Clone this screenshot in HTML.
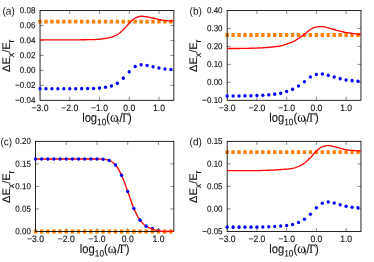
<!DOCTYPE html>
<html><head><meta charset="utf-8"><title>fig</title>
<style>
html,body{margin:0;padding:0;background:#fff;}
body{width:374px;height:262px;overflow:hidden;}
svg{display:block;will-change:transform;}
text{font-family:"Liberation Sans",sans-serif;fill:#111;text-rendering:geometricPrecision;}
.t,.l{stroke:#111;stroke-width:0.1px;}
.t{font-size:8px;}
.l{font-size:11.2px;}
.u{font-size:8.6px;}
.p{font-size:10.1px;}
.s{font-family:"Liberation Serif",serif;}
</style></head><body>
<svg width="374" height="262" viewBox="0 0 374 262">
<rect width="374" height="262" fill="#fff"/>

<g transform="translate(0,0)">
<path d="M40.04 25.47h3.6M173.85 25.47h-3.6M40.04 40.43h3.6M173.85 40.43h-3.6M40.04 55.4h3.6M173.85 55.4h-3.6M40.04 70.37h3.6M173.85 70.37h-3.6M40.04 85.33h3.6M173.85 85.33h-3.6M69.78 100.3v-3.6M69.78 10.5v3.6M99.51 100.3v-3.6M99.51 10.5v3.6M129.25 100.3v-3.6M129.25 10.5v3.6M158.98 100.3v-3.6M158.98 10.5v3.6" stroke="#000" stroke-width="0.45" fill="none"/>
<path d="M38.34 19.75h3.4v3.8h-3.4zM44.29 19.75h3.4v3.8h-3.4zM50.23 19.75h3.4v3.8h-3.4zM56.18 19.75h3.4v3.8h-3.4zM62.13 19.75h3.4v3.8h-3.4zM68.08 19.75h3.4v3.8h-3.4zM74.02 19.75h3.4v3.8h-3.4zM79.97 19.75h3.4v3.8h-3.4zM85.92 19.75h3.4v3.8h-3.4zM91.86 19.75h3.4v3.8h-3.4zM97.81 19.75h3.4v3.8h-3.4zM103.76 19.75h3.4v3.8h-3.4zM109.71 19.75h3.4v3.8h-3.4zM115.65 19.75h3.4v3.8h-3.4zM121.6 19.75h3.4v3.8h-3.4zM127.55 19.75h3.4v3.8h-3.4zM133.49 19.75h3.4v3.8h-3.4zM139.44 19.75h3.4v3.8h-3.4zM145.39 19.75h3.4v3.8h-3.4zM151.34 19.75h3.4v3.8h-3.4zM157.28 19.75h3.4v3.8h-3.4zM163.23 19.75h3.4v3.8h-3.4zM169.18 19.75h3.4v3.8h-3.4z" fill="#ff7f00"/>
<rect x="40.04" y="10.5" width="133.81" height="89.8" fill="none" stroke="#000" stroke-width="0.85"/>
<path d="M40.04 39.93 L41 39.93 L41.97 39.93 L42.93 39.93 L43.89 39.93 L44.85 39.93 L45.82 39.93 L46.78 39.93 L47.74 39.93 L48.7 39.93 L49.67 39.93 L50.63 39.93 L51.59 39.93 L52.55 39.93 L53.52 39.93 L54.48 39.93 L55.44 39.93 L56.41 39.93 L57.37 39.93 L58.33 39.93 L59.29 39.93 L60.26 39.93 L61.22 39.93 L62.18 39.93 L63.14 39.93 L64.11 39.93 L65.07 39.93 L66.03 39.92 L66.99 39.91 L67.96 39.9 L68.92 39.89 L69.88 39.88 L70.85 39.87 L71.81 39.87 L72.77 39.86 L73.73 39.85 L74.7 39.84 L75.66 39.83 L76.62 39.83 L77.58 39.82 L78.55 39.81 L79.51 39.8 L80.47 39.8 L81.43 39.79 L82.4 39.77 L83.36 39.76 L84.32 39.74 L85.29 39.73 L86.25 39.71 L87.21 39.69 L88.17 39.67 L89.14 39.66 L90.1 39.65 L91.06 39.63 L92.02 39.62 L92.99 39.6 L93.95 39.57 L94.91 39.54 L95.87 39.49 L96.84 39.43 L97.8 39.37 L98.76 39.29 L99.73 39.21 L100.69 39.12 L101.65 38.99 L102.61 38.86 L103.58 38.7 L104.54 38.54 L105.5 38.38 L106.46 38.21 L107.43 38.03 L108.39 37.83 L109.35 37.62 L110.31 37.38 L111.28 37.12 L112.24 36.83 L113.2 36.5 L114.16 36.13 L115.13 35.72 L116.09 35.27 L117.05 34.79 L118.02 34.23 L118.98 33.54 L119.94 32.76 L120.9 31.9 L121.87 31 L122.83 30.08 L123.79 29.17 L124.75 28.19 L125.72 27.15 L126.68 26.09 L127.64 25.04 L128.6 24.02 L129.57 23.06 L130.53 22.08 L131.49 21.07 L132.46 20.11 L133.42 19.24 L134.38 18.52 L135.34 17.99 L136.31 17.56 L137.27 17.15 L138.23 16.79 L139.19 16.5 L140.16 16.31 L141.12 16.23 L142.08 16.26 L143.04 16.33 L144.01 16.43 L144.97 16.56 L145.93 16.7 L146.9 16.84 L147.86 16.99 L148.82 17.17 L149.78 17.37 L150.75 17.58 L151.71 17.8 L152.67 18.02 L153.63 18.23 L154.6 18.44 L155.56 18.66 L156.52 18.88 L157.48 19.11 L158.45 19.34 L159.41 19.56 L160.37 19.77 L161.34 19.98 L162.3 20.18 L163.26 20.35 L164.22 20.5 L165.19 20.61 L166.15 20.7 L167.11 20.76 L168.07 20.8 L169.04 20.83 L170 20.84 L170.96 20.85 L171.92 20.84 L172.89 20.82 L173.85 20.78" fill="none" stroke="#ff0505" stroke-width="1.35" stroke-linejoin="round"/>
<g fill="#0000ff"><ellipse cx="40.04" cy="88.8" rx="1.65" ry="1.8"/><ellipse cx="45.99" cy="88.8" rx="1.65" ry="1.8"/><ellipse cx="51.93" cy="88.8" rx="1.65" ry="1.8"/><ellipse cx="57.88" cy="88.8" rx="1.65" ry="1.8"/><ellipse cx="63.83" cy="88.8" rx="1.65" ry="1.8"/><ellipse cx="69.78" cy="88.75" rx="1.65" ry="1.8"/><ellipse cx="75.72" cy="88.7" rx="1.65" ry="1.8"/><ellipse cx="81.67" cy="88.65" rx="1.65" ry="1.8"/><ellipse cx="87.62" cy="88.55" rx="1.65" ry="1.8"/><ellipse cx="93.56" cy="88.45" rx="1.65" ry="1.8"/><ellipse cx="99.51" cy="88.1" rx="1.65" ry="1.8"/><ellipse cx="105.46" cy="87.25" rx="1.65" ry="1.8"/><ellipse cx="111.41" cy="85.95" rx="1.65" ry="1.8"/><ellipse cx="117.35" cy="83.35" rx="1.65" ry="1.8"/><ellipse cx="123.3" cy="78.15" rx="1.65" ry="1.8"/><ellipse cx="129.25" cy="71.85" rx="1.65" ry="1.8"/><ellipse cx="135.19" cy="66.55" rx="1.65" ry="1.8"/><ellipse cx="141.14" cy="64.75" rx="1.65" ry="1.8"/><ellipse cx="147.09" cy="65.45" rx="1.65" ry="1.8"/><ellipse cx="153.04" cy="66.75" rx="1.65" ry="1.8"/><ellipse cx="158.98" cy="68.05" rx="1.65" ry="1.8"/><ellipse cx="164.93" cy="68.95" rx="1.65" ry="1.8"/><ellipse cx="170.88" cy="69.45" rx="1.65" ry="1.8"/></g>
<text class="t" transform="translate(35.44,13.25) matrix(1,0.0006,0,1.09,0,0)" text-anchor="end">0.08</text>
<text class="t" transform="translate(35.44,28.22) matrix(1,0.0006,0,1.09,0,0)" text-anchor="end">0.06</text>
<text class="t" transform="translate(35.44,43.18) matrix(1,0.0006,0,1.09,0,0)" text-anchor="end">0.04</text>
<text class="t" transform="translate(35.44,58.15) matrix(1,0.0006,0,1.09,0,0)" text-anchor="end">0.02</text>
<text class="t" transform="translate(35.44,73.12) matrix(1,0.0006,0,1.09,0,0)" text-anchor="end">0.00</text>
<text class="t" transform="translate(35.44,88.08) matrix(1,0.0006,0,1.09,0,0)" text-anchor="end">−0.02</text>
<text class="t" transform="translate(35.44,103.05) matrix(1,0.0006,0,1.09,0,0)" text-anchor="end">−0.04</text>
<text class="t u" transform="translate(40.04,110.9) matrix(1,0.0006,0,1.09,0,0)" text-anchor="middle">−3.0</text>
<text class="t u" transform="translate(69.78,110.9) matrix(1,0.0006,0,1.09,0,0)" text-anchor="middle">−2.0</text>
<text class="t u" transform="translate(99.51,110.9) matrix(1,0.0006,0,1.09,0,0)" text-anchor="middle">−1.0</text>
<text class="t u" transform="translate(129.25,110.9) matrix(1,0.0006,0,1.09,0,0)" text-anchor="middle">0.0</text>
<text class="t u" transform="translate(158.98,110.9) matrix(1,0.0006,0,1.09,0,0)" text-anchor="middle">1.0</text>
<text class="p" transform="translate(2.5,14.45) matrix(1,0.0006,0,1.04,0,0)">(a)</text>
<text class="l" transform="translate(106.94,121.7) matrix(1,0.0006,0,1.11,0,0)" text-anchor="middle">log<tspan font-size="8.3px" dy="3.2">10</tspan><tspan dy="-3.2">(</tspan><tspan class="s" font-size="13px">ω</tspan><tspan font-size="7.6px" dy="2.2" dx="-1.5" stroke="none">t</tspan><tspan dy="-2.2" dx="0.2">/</tspan><tspan class="s" dx="-0.4">Γ</tspan><tspan dx="-0.6">)</tspan></text>
<text class="l" style="font-size:11px;stroke-width:0.1px" transform="translate(10.3,55.7) rotate(-90) scale(1.0,1)" text-anchor="middle">ΔE<tspan font-size="8.9px" dy="3.2">x</tspan><tspan dy="-3.2">/E</tspan><tspan font-size="8.9px" dy="3.2">r</tspan></text>
</g>
<g transform="translate(187.12,0)">
<path d="M40.04 28.46h3.6M173.85 28.46h-3.6M40.04 46.42h3.6M173.85 46.42h-3.6M40.04 64.38h3.6M173.85 64.38h-3.6M40.04 82.34h3.6M173.85 82.34h-3.6M69.78 100.3v-3.6M69.78 10.5v3.6M99.51 100.3v-3.6M99.51 10.5v3.6M129.25 100.3v-3.6M129.25 10.5v3.6M158.98 100.3v-3.6M158.98 10.5v3.6" stroke="#000" stroke-width="0.45" fill="none"/>
<path d="M38.34 33.1h3.4v3.8h-3.4zM44.29 33.1h3.4v3.8h-3.4zM50.23 33.1h3.4v3.8h-3.4zM56.18 33.1h3.4v3.8h-3.4zM62.13 33.1h3.4v3.8h-3.4zM68.08 33.1h3.4v3.8h-3.4zM74.02 33.1h3.4v3.8h-3.4zM79.97 33.1h3.4v3.8h-3.4zM85.92 33.1h3.4v3.8h-3.4zM91.86 33.1h3.4v3.8h-3.4zM97.81 33.1h3.4v3.8h-3.4zM103.76 33.1h3.4v3.8h-3.4zM109.71 33.1h3.4v3.8h-3.4zM115.65 33.1h3.4v3.8h-3.4zM121.6 33.1h3.4v3.8h-3.4zM127.55 33.1h3.4v3.8h-3.4zM133.49 33.1h3.4v3.8h-3.4zM139.44 33.1h3.4v3.8h-3.4zM145.39 33.1h3.4v3.8h-3.4zM151.34 33.1h3.4v3.8h-3.4zM157.28 33.1h3.4v3.8h-3.4zM163.23 33.1h3.4v3.8h-3.4zM169.18 33.1h3.4v3.8h-3.4z" fill="#ff7f00"/>
<rect x="40.04" y="10.5" width="133.81" height="89.8" fill="none" stroke="#000" stroke-width="0.85"/>
<path d="M40.04 48.46 L41 48.46 L41.97 48.46 L42.93 48.46 L43.89 48.46 L44.85 48.46 L45.82 48.46 L46.78 48.46 L47.74 48.46 L48.7 48.46 L49.67 48.46 L50.63 48.46 L51.59 48.46 L52.55 48.46 L53.52 48.45 L54.48 48.43 L55.44 48.41 L56.41 48.39 L57.37 48.37 L58.33 48.35 L59.29 48.34 L60.26 48.32 L61.22 48.31 L62.18 48.29 L63.14 48.27 L64.11 48.25 L65.07 48.23 L66.03 48.2 L66.99 48.17 L67.96 48.13 L68.92 48.09 L69.88 48.06 L70.85 48.01 L71.81 47.97 L72.77 47.92 L73.73 47.87 L74.7 47.82 L75.66 47.76 L76.62 47.71 L77.58 47.65 L78.55 47.59 L79.51 47.53 L80.47 47.46 L81.43 47.38 L82.4 47.29 L83.36 47.19 L84.32 47.08 L85.29 46.96 L86.25 46.84 L87.21 46.71 L88.17 46.59 L89.14 46.48 L90.1 46.36 L91.06 46.25 L92.02 46.11 L92.99 45.96 L93.95 45.78 L94.91 45.55 L95.87 45.28 L96.84 44.97 L97.8 44.65 L98.76 44.31 L99.73 43.99 L100.69 43.67 L101.65 43.34 L102.61 43 L103.58 42.64 L104.54 42.26 L105.5 41.84 L106.46 41.38 L107.43 40.87 L108.39 40.32 L109.35 39.74 L110.31 39.15 L111.28 38.54 L112.24 37.92 L113.2 37.27 L114.16 36.6 L115.13 35.9 L116.09 35.2 L117.05 34.48 L118.02 33.74 L118.98 32.94 L119.94 32.11 L120.9 31.28 L121.87 30.52 L122.83 29.84 L123.79 29.28 L124.75 28.73 L125.72 28.21 L126.68 27.74 L127.64 27.35 L128.6 27.07 L129.57 26.92 L130.53 26.82 L131.49 26.73 L132.46 26.66 L133.42 26.6 L134.38 26.57 L135.34 26.56 L136.31 26.64 L137.27 26.81 L138.23 27.04 L139.19 27.32 L140.16 27.6 L141.12 27.85 L142.08 28.1 L143.04 28.37 L144.01 28.66 L144.97 28.94 L145.93 29.23 L146.9 29.51 L147.86 29.77 L148.82 30.04 L149.78 30.31 L150.75 30.57 L151.71 30.83 L152.67 31.07 L153.63 31.31 L154.6 31.55 L155.56 31.78 L156.52 32.02 L157.48 32.23 L158.45 32.43 L159.41 32.6 L160.37 32.75 L161.34 32.89 L162.3 33.03 L163.26 33.16 L164.22 33.29 L165.19 33.42 L166.15 33.55 L167.11 33.68 L168.07 33.81 L169.04 33.94 L170 34.06 L170.96 34.18 L171.92 34.29 L172.89 34.4 L173.85 34.5" fill="none" stroke="#ff0505" stroke-width="1.35" stroke-linejoin="round"/>
<g fill="#0000ff"><ellipse cx="40.04" cy="95.95" rx="1.65" ry="1.8"/><ellipse cx="45.99" cy="95.95" rx="1.65" ry="1.8"/><ellipse cx="51.93" cy="95.95" rx="1.65" ry="1.8"/><ellipse cx="57.88" cy="95.85" rx="1.65" ry="1.8"/><ellipse cx="63.83" cy="95.75" rx="1.65" ry="1.8"/><ellipse cx="69.78" cy="95.55" rx="1.65" ry="1.8"/><ellipse cx="75.72" cy="95.25" rx="1.65" ry="1.8"/><ellipse cx="81.67" cy="94.85" rx="1.65" ry="1.8"/><ellipse cx="87.62" cy="94.15" rx="1.65" ry="1.8"/><ellipse cx="93.56" cy="93.35" rx="1.65" ry="1.8"/><ellipse cx="99.51" cy="91.55" rx="1.65" ry="1.8"/><ellipse cx="105.46" cy="89.35" rx="1.65" ry="1.8"/><ellipse cx="111.41" cy="85.95" rx="1.65" ry="1.8"/><ellipse cx="117.35" cy="81.75" rx="1.65" ry="1.8"/><ellipse cx="123.3" cy="77.05" rx="1.65" ry="1.8"/><ellipse cx="129.25" cy="74.45" rx="1.65" ry="1.8"/><ellipse cx="135.19" cy="74.05" rx="1.65" ry="1.8"/><ellipse cx="141.14" cy="75.35" rx="1.65" ry="1.8"/><ellipse cx="147.09" cy="77.05" rx="1.65" ry="1.8"/><ellipse cx="153.04" cy="78.65" rx="1.65" ry="1.8"/><ellipse cx="158.98" cy="79.95" rx="1.65" ry="1.8"/><ellipse cx="164.93" cy="80.65" rx="1.65" ry="1.8"/><ellipse cx="170.88" cy="81.25" rx="1.65" ry="1.8"/></g>
<text class="t" transform="translate(35.44,13.25) matrix(1,0.0006,0,1.09,0,0)" text-anchor="end">0.40</text>
<text class="t" transform="translate(35.44,31.21) matrix(1,0.0006,0,1.09,0,0)" text-anchor="end">0.30</text>
<text class="t" transform="translate(35.44,49.17) matrix(1,0.0006,0,1.09,0,0)" text-anchor="end">0.20</text>
<text class="t" transform="translate(35.44,67.13) matrix(1,0.0006,0,1.09,0,0)" text-anchor="end">0.10</text>
<text class="t" transform="translate(35.44,85.09) matrix(1,0.0006,0,1.09,0,0)" text-anchor="end">0.00</text>
<text class="t" transform="translate(35.44,103.05) matrix(1,0.0006,0,1.09,0,0)" text-anchor="end">−0.10</text>
<text class="t u" transform="translate(40.04,110.9) matrix(1,0.0006,0,1.09,0,0)" text-anchor="middle">−3.0</text>
<text class="t u" transform="translate(69.78,110.9) matrix(1,0.0006,0,1.09,0,0)" text-anchor="middle">−2.0</text>
<text class="t u" transform="translate(99.51,110.9) matrix(1,0.0006,0,1.09,0,0)" text-anchor="middle">−1.0</text>
<text class="t u" transform="translate(129.25,110.9) matrix(1,0.0006,0,1.09,0,0)" text-anchor="middle">0.0</text>
<text class="t u" transform="translate(158.98,110.9) matrix(1,0.0006,0,1.09,0,0)" text-anchor="middle">1.0</text>
<text class="p" transform="translate(2.5,14.45) matrix(1,0.0006,0,1.04,0,0)">(b)</text>
<text class="l" transform="translate(106.94,121.7) matrix(1,0.0006,0,1.11,0,0)" text-anchor="middle">log<tspan font-size="8.3px" dy="3.2">10</tspan><tspan dy="-3.2">(</tspan><tspan class="s" font-size="13px">ω</tspan><tspan font-size="7.6px" dy="2.2" dx="-1.5" stroke="none">t</tspan><tspan dy="-2.2" dx="0.2">/</tspan><tspan class="s" dx="-0.4">Γ</tspan><tspan dx="-0.6">)</tspan></text>
<text class="l" style="font-size:11px;stroke-width:0.1px" transform="translate(10.3,55.7) rotate(-90) scale(1.0,1)" text-anchor="middle">ΔE<tspan font-size="8.9px" dy="3.2">x</tspan><tspan dy="-3.2">/E</tspan><tspan font-size="8.9px" dy="3.2">r</tspan></text>
</g>
<g transform="translate(0,131)">
<g fill="#0000ff"><ellipse cx="152.33" cy="97.55" rx="1.65" ry="1.8"/><ellipse cx="158.48" cy="99.35" rx="1.65" ry="1.8"/><ellipse cx="164.63" cy="100.45" rx="1.65" ry="1.8"/><ellipse cx="170.78" cy="100.55" rx="1.65" ry="1.8"/></g>
<path d="M35.5 32.89h3.6M173.85 32.89h-3.6M35.5 55.43h3.6M173.85 55.43h-3.6M35.5 77.96h3.6M173.85 77.96h-3.6M66.24 100.5v-3.6M66.24 10.35v3.6M96.99 100.5v-3.6M96.99 10.35v3.6M127.73 100.5v-3.6M127.73 10.35v3.6M158.48 100.5v-3.6M158.48 10.35v3.6" stroke="#000" stroke-width="0.45" fill="none"/>
<path d="M33.8 98.6h3.4v3.8h-3.4zM39.95 98.6h3.4v3.8h-3.4zM46.1 98.6h3.4v3.8h-3.4zM52.25 98.6h3.4v3.8h-3.4zM58.4 98.6h3.4v3.8h-3.4zM64.54 98.6h3.4v3.8h-3.4zM70.69 98.6h3.4v3.8h-3.4zM76.84 98.6h3.4v3.8h-3.4zM82.99 98.6h3.4v3.8h-3.4zM89.14 98.6h3.4v3.8h-3.4zM95.29 98.6h3.4v3.8h-3.4zM101.44 98.6h3.4v3.8h-3.4zM107.59 98.6h3.4v3.8h-3.4zM113.74 98.6h3.4v3.8h-3.4zM119.88 98.6h3.4v3.8h-3.4zM126.03 98.6h3.4v3.8h-3.4zM132.18 98.6h3.4v3.8h-3.4zM138.33 98.6h3.4v3.8h-3.4zM144.48 98.6h3.4v3.8h-3.4zM150.63 98.6h3.4v3.8h-3.4zM156.78 98.6h3.4v3.8h-3.4zM162.93 98.6h3.4v3.8h-3.4zM169.08 98.6h3.4v3.8h-3.4z" fill="#ff7f00"/>
<rect x="35.5" y="10.35" width="138.35" height="90.15" fill="none" stroke="#000" stroke-width="0.85"/>
<path d="M35.5 27.95 L36.5 27.95 L37.49 27.95 L38.49 27.95 L39.48 27.95 L40.48 27.95 L41.47 27.95 L42.47 27.95 L43.46 27.95 L44.46 27.95 L45.45 27.95 L46.45 27.95 L47.44 27.95 L48.44 27.95 L49.43 27.95 L50.43 27.95 L51.43 27.95 L52.42 27.95 L53.42 27.95 L54.41 27.95 L55.41 27.95 L56.4 27.95 L57.4 27.95 L58.39 27.95 L59.39 27.95 L60.38 27.95 L61.38 27.95 L62.37 27.95 L63.37 27.95 L64.36 27.95 L65.36 27.95 L66.36 27.95 L67.35 27.95 L68.35 27.95 L69.34 27.95 L70.34 27.95 L71.33 27.95 L72.33 27.95 L73.32 27.95 L74.32 27.95 L75.31 27.95 L76.31 27.95 L77.3 27.95 L78.3 27.95 L79.29 27.95 L80.29 27.95 L81.28 27.95 L82.28 27.95 L83.28 27.95 L84.27 27.95 L85.27 27.95 L86.26 27.95 L87.26 27.95 L88.25 27.95 L89.25 27.95 L90.24 27.95 L91.24 27.95 L92.23 27.95 L93.23 27.95 L94.22 27.96 L95.22 27.96 L96.21 27.97 L97.21 27.97 L98.21 27.98 L99.2 28 L100.2 28.03 L101.19 28.06 L102.19 28.1 L103.18 28.15 L104.18 28.24 L105.17 28.37 L106.17 28.56 L107.16 28.79 L108.16 29.06 L109.15 29.36 L110.15 29.74 L111.14 30.27 L112.14 30.94 L113.14 31.73 L114.13 32.62 L115.13 33.59 L116.12 34.67 L117.12 36.03 L118.11 37.61 L119.11 39.39 L120.1 41.3 L121.1 43.3 L122.09 45.39 L123.09 47.75 L124.08 50.35 L125.08 53.09 L126.07 55.89 L127.07 58.69 L128.07 61.4 L129.06 64.21 L130.06 67.1 L131.05 69.99 L132.05 72.78 L133.04 75.4 L134.04 77.75 L135.03 79.96 L136.03 82.1 L137.02 84.12 L138.02 85.98 L139.01 87.65 L140.01 89.07 L141 90.32 L142 91.49 L142.99 92.55 L143.99 93.5 L144.99 94.32 L145.98 94.99 L146.98 95.54 L147.97 96.07 L148.97 96.58 L149.96 97.05 L150.96 97.49 L151.95 97.87 L152.95 98.21 L153.94 98.53 L154.94 98.85 L155.93 99.14 L156.93 99.42 L157.92 99.67 L158.92 99.9 L159.92 100.09 L160.91 100.24 L161.91 100.36 L162.9 100.45 L163.9 100.49 L164.89 100.5 L165.89 100.49 L166.88 100.48 L167.88 100.46 L168.87 100.45 L169.87 100.43 L170.86 100.43 L171.86 100.43 L172.85 100.43 L173.85 100.44" fill="none" stroke="#ff0505" stroke-width="1.35" stroke-linejoin="round"/>
<g fill="#0000ff"><ellipse cx="35.5" cy="28" rx="1.65" ry="1.8"/><ellipse cx="41.65" cy="28" rx="1.65" ry="1.8"/><ellipse cx="47.8" cy="28" rx="1.65" ry="1.8"/><ellipse cx="53.95" cy="28" rx="1.65" ry="1.8"/><ellipse cx="60.1" cy="28" rx="1.65" ry="1.8"/><ellipse cx="66.24" cy="28" rx="1.65" ry="1.8"/><ellipse cx="72.39" cy="28" rx="1.65" ry="1.8"/><ellipse cx="78.54" cy="28" rx="1.65" ry="1.8"/><ellipse cx="84.69" cy="28" rx="1.65" ry="1.8"/><ellipse cx="90.84" cy="28" rx="1.65" ry="1.8"/><ellipse cx="96.99" cy="28.02" rx="1.65" ry="1.8"/><ellipse cx="103.14" cy="28.2" rx="1.65" ry="1.8"/><ellipse cx="109.29" cy="29.45" rx="1.65" ry="1.8"/><ellipse cx="115.44" cy="33.95" rx="1.65" ry="1.8"/><ellipse cx="121.58" cy="44.35" rx="1.65" ry="1.8"/><ellipse cx="127.73" cy="60.55" rx="1.65" ry="1.8"/><ellipse cx="133.88" cy="77.45" rx="1.65" ry="1.8"/><ellipse cx="140.03" cy="89.15" rx="1.65" ry="1.8"/><ellipse cx="146.18" cy="95.15" rx="1.65" ry="1.8"/></g>
<text class="t" transform="translate(30.9,13.1) matrix(1,0.0006,0,1.09,0,0)" text-anchor="end">0.20</text>
<text class="t" transform="translate(30.9,35.64) matrix(1,0.0006,0,1.09,0,0)" text-anchor="end">0.15</text>
<text class="t" transform="translate(30.9,58.18) matrix(1,0.0006,0,1.09,0,0)" text-anchor="end">0.10</text>
<text class="t" transform="translate(30.9,80.71) matrix(1,0.0006,0,1.09,0,0)" text-anchor="end">0.05</text>
<text class="t" transform="translate(30.9,103.25) matrix(1,0.0006,0,1.09,0,0)" text-anchor="end">0.00</text>
<text class="t u" transform="translate(35.5,111.1) matrix(1,0.0006,0,1.09,0,0)" text-anchor="middle">−3.0</text>
<text class="t u" transform="translate(66.24,111.1) matrix(1,0.0006,0,1.09,0,0)" text-anchor="middle">−2.0</text>
<text class="t u" transform="translate(96.99,111.1) matrix(1,0.0006,0,1.09,0,0)" text-anchor="middle">−1.0</text>
<text class="t u" transform="translate(127.73,111.1) matrix(1,0.0006,0,1.09,0,0)" text-anchor="middle">0.0</text>
<text class="t u" transform="translate(158.48,111.1) matrix(1,0.0006,0,1.09,0,0)" text-anchor="middle">1.0</text>
<text class="p" transform="translate(0.4,14.3) matrix(1,0.0006,0,1.04,0,0)">(c)</text>
<text class="l" transform="translate(104.67,121.9) matrix(1,0.0006,0,1.11,0,0)" text-anchor="middle">log<tspan font-size="8.3px" dy="3.2">10</tspan><tspan dy="-3.2">(</tspan><tspan class="s" font-size="13px">ω</tspan><tspan font-size="7.6px" dy="2.2" dx="-1.5" stroke="none">t</tspan><tspan dy="-2.2" dx="0.2">/</tspan><tspan class="s" dx="-0.4">Γ</tspan><tspan dx="-0.6">)</tspan></text>
<text class="l" style="font-size:11px;stroke-width:0.1px" transform="translate(10.3,55.72) rotate(-90) scale(1.0,1)" text-anchor="middle">ΔE<tspan font-size="8.9px" dy="3.2">x</tspan><tspan dy="-3.2">/E</tspan><tspan font-size="8.9px" dy="3.2">r</tspan></text>
</g>
<g transform="translate(187.12,131)">
<path d="M40.04 32.89h3.6M173.85 32.89h-3.6M40.04 55.43h3.6M173.85 55.43h-3.6M40.04 77.96h3.6M173.85 77.96h-3.6M69.78 100.5v-3.6M69.78 10.35v3.6M99.51 100.5v-3.6M99.51 10.35v3.6M129.25 100.5v-3.6M129.25 10.35v3.6M158.98 100.5v-3.6M158.98 10.35v3.6" stroke="#000" stroke-width="0.45" fill="none"/>
<path d="M38.34 19.3h3.4v3.8h-3.4zM44.29 19.3h3.4v3.8h-3.4zM50.23 19.3h3.4v3.8h-3.4zM56.18 19.3h3.4v3.8h-3.4zM62.13 19.3h3.4v3.8h-3.4zM68.08 19.3h3.4v3.8h-3.4zM74.02 19.3h3.4v3.8h-3.4zM79.97 19.3h3.4v3.8h-3.4zM85.92 19.3h3.4v3.8h-3.4zM91.86 19.3h3.4v3.8h-3.4zM97.81 19.3h3.4v3.8h-3.4zM103.76 19.3h3.4v3.8h-3.4zM109.71 19.3h3.4v3.8h-3.4zM115.65 19.3h3.4v3.8h-3.4zM121.6 19.3h3.4v3.8h-3.4zM127.55 19.3h3.4v3.8h-3.4zM133.49 19.3h3.4v3.8h-3.4zM139.44 19.3h3.4v3.8h-3.4zM145.39 19.3h3.4v3.8h-3.4zM151.34 19.3h3.4v3.8h-3.4zM157.28 19.3h3.4v3.8h-3.4zM163.23 19.3h3.4v3.8h-3.4zM169.18 19.3h3.4v3.8h-3.4z" fill="#ff7f00"/>
<rect x="40.04" y="10.35" width="133.81" height="90.15" fill="none" stroke="#000" stroke-width="0.85"/>
<path d="M40.04 39.64 L41 39.64 L41.97 39.64 L42.93 39.64 L43.89 39.64 L44.85 39.64 L45.82 39.64 L46.78 39.64 L47.74 39.64 L48.7 39.64 L49.67 39.64 L50.63 39.64 L51.59 39.64 L52.55 39.64 L53.52 39.64 L54.48 39.64 L55.44 39.64 L56.41 39.64 L57.37 39.64 L58.33 39.64 L59.29 39.64 L60.26 39.64 L61.22 39.64 L62.18 39.64 L63.14 39.64 L64.11 39.64 L65.07 39.64 L66.03 39.64 L66.99 39.64 L67.96 39.64 L68.92 39.64 L69.88 39.64 L70.85 39.63 L71.81 39.6 L72.77 39.56 L73.73 39.52 L74.7 39.48 L75.66 39.44 L76.62 39.41 L77.58 39.38 L78.55 39.35 L79.51 39.31 L80.47 39.28 L81.43 39.25 L82.4 39.21 L83.36 39.17 L84.32 39.14 L85.29 39.1 L86.25 39.06 L87.21 39.01 L88.17 38.96 L89.14 38.89 L90.1 38.82 L91.06 38.74 L92.02 38.66 L92.99 38.58 L93.95 38.51 L94.91 38.44 L95.87 38.39 L96.84 38.34 L97.8 38.28 L98.76 38.22 L99.73 38.15 L100.69 38.06 L101.65 37.94 L102.61 37.81 L103.58 37.66 L104.54 37.49 L105.5 37.3 L106.46 37.08 L107.43 36.83 L108.39 36.54 L109.35 36.22 L110.31 35.87 L111.28 35.49 L112.24 35.07 L113.2 34.59 L114.16 34.06 L115.13 33.49 L116.09 32.87 L117.05 32.2 L118.02 31.5 L118.98 30.72 L119.94 29.9 L120.9 29.02 L121.87 28.11 L122.83 27.17 L123.79 26.21 L124.75 25.14 L125.72 24.02 L126.68 22.88 L127.64 21.77 L128.6 20.75 L129.57 19.85 L130.53 18.96 L131.49 18.09 L132.46 17.28 L133.42 16.57 L134.38 16.01 L135.34 15.64 L136.31 15.36 L137.27 15.1 L138.23 14.87 L139.19 14.7 L140.16 14.58 L141.12 14.54 L142.08 14.58 L143.04 14.71 L144.01 14.89 L144.97 15.11 L145.93 15.34 L146.9 15.57 L147.86 15.79 L148.82 16.04 L149.78 16.31 L150.75 16.59 L151.71 16.87 L152.67 17.14 L153.63 17.4 L154.6 17.66 L155.56 17.93 L156.52 18.19 L157.48 18.43 L158.45 18.64 L159.41 18.81 L160.37 18.95 L161.34 19.07 L162.3 19.17 L163.26 19.27 L164.22 19.35 L165.19 19.44 L166.15 19.51 L167.11 19.58 L168.07 19.64 L169.04 19.7 L170 19.75 L170.96 19.8 L171.92 19.84 L172.89 19.87 L173.85 19.9" fill="none" stroke="#ff0505" stroke-width="1.35" stroke-linejoin="round"/>
<g fill="#0000ff"><ellipse cx="40.04" cy="96.15" rx="1.65" ry="1.8"/><ellipse cx="45.99" cy="96.15" rx="1.65" ry="1.8"/><ellipse cx="51.93" cy="96.15" rx="1.65" ry="1.8"/><ellipse cx="57.88" cy="96.15" rx="1.65" ry="1.8"/><ellipse cx="63.83" cy="96.15" rx="1.65" ry="1.8"/><ellipse cx="69.78" cy="96.15" rx="1.65" ry="1.8"/><ellipse cx="75.72" cy="95.95" rx="1.65" ry="1.8"/><ellipse cx="81.67" cy="95.75" rx="1.65" ry="1.8"/><ellipse cx="87.62" cy="95.5" rx="1.65" ry="1.8"/><ellipse cx="93.56" cy="95.05" rx="1.65" ry="1.8"/><ellipse cx="99.51" cy="94.55" rx="1.65" ry="1.8"/><ellipse cx="105.46" cy="93.45" rx="1.65" ry="1.8"/><ellipse cx="111.41" cy="91.45" rx="1.65" ry="1.8"/><ellipse cx="117.35" cy="88.25" rx="1.65" ry="1.8"/><ellipse cx="123.3" cy="83.25" rx="1.65" ry="1.8"/><ellipse cx="129.25" cy="76.85" rx="1.65" ry="1.8"/><ellipse cx="135.19" cy="72.25" rx="1.65" ry="1.8"/><ellipse cx="141.14" cy="70.95" rx="1.65" ry="1.8"/><ellipse cx="147.09" cy="72.05" rx="1.65" ry="1.8"/><ellipse cx="153.04" cy="73.75" rx="1.65" ry="1.8"/><ellipse cx="158.98" cy="75.35" rx="1.65" ry="1.8"/><ellipse cx="164.93" cy="76.2" rx="1.65" ry="1.8"/><ellipse cx="170.88" cy="76.85" rx="1.65" ry="1.8"/></g>
<text class="t" transform="translate(35.44,13.1) matrix(1,0.0006,0,1.09,0,0)" text-anchor="end">0.15</text>
<text class="t" transform="translate(35.44,35.64) matrix(1,0.0006,0,1.09,0,0)" text-anchor="end">0.10</text>
<text class="t" transform="translate(35.44,58.18) matrix(1,0.0006,0,1.09,0,0)" text-anchor="end">0.05</text>
<text class="t" transform="translate(35.44,80.71) matrix(1,0.0006,0,1.09,0,0)" text-anchor="end">0.00</text>
<text class="t" transform="translate(35.44,103.25) matrix(1,0.0006,0,1.09,0,0)" text-anchor="end">−0.05</text>
<text class="t u" transform="translate(40.04,111.1) matrix(1,0.0006,0,1.09,0,0)" text-anchor="middle">−3.0</text>
<text class="t u" transform="translate(69.78,111.1) matrix(1,0.0006,0,1.09,0,0)" text-anchor="middle">−2.0</text>
<text class="t u" transform="translate(99.51,111.1) matrix(1,0.0006,0,1.09,0,0)" text-anchor="middle">−1.0</text>
<text class="t u" transform="translate(129.25,111.1) matrix(1,0.0006,0,1.09,0,0)" text-anchor="middle">0.0</text>
<text class="t u" transform="translate(158.98,111.1) matrix(1,0.0006,0,1.09,0,0)" text-anchor="middle">1.0</text>
<text class="p" transform="translate(2.5,14.3) matrix(1,0.0006,0,1.04,0,0)">(d)</text>
<text class="l" transform="translate(106.94,121.9) matrix(1,0.0006,0,1.11,0,0)" text-anchor="middle">log<tspan font-size="8.3px" dy="3.2">10</tspan><tspan dy="-3.2">(</tspan><tspan class="s" font-size="13px">ω</tspan><tspan font-size="7.6px" dy="2.2" dx="-1.5" stroke="none">t</tspan><tspan dy="-2.2" dx="0.2">/</tspan><tspan class="s" dx="-0.4">Γ</tspan><tspan dx="-0.6">)</tspan></text>
<text class="l" style="font-size:11px;stroke-width:0.1px" transform="translate(10.3,55.72) rotate(-90) scale(1.0,1)" text-anchor="middle">ΔE<tspan font-size="8.9px" dy="3.2">x</tspan><tspan dy="-3.2">/E</tspan><tspan font-size="8.9px" dy="3.2">r</tspan></text>
</g>
</svg></body></html>
